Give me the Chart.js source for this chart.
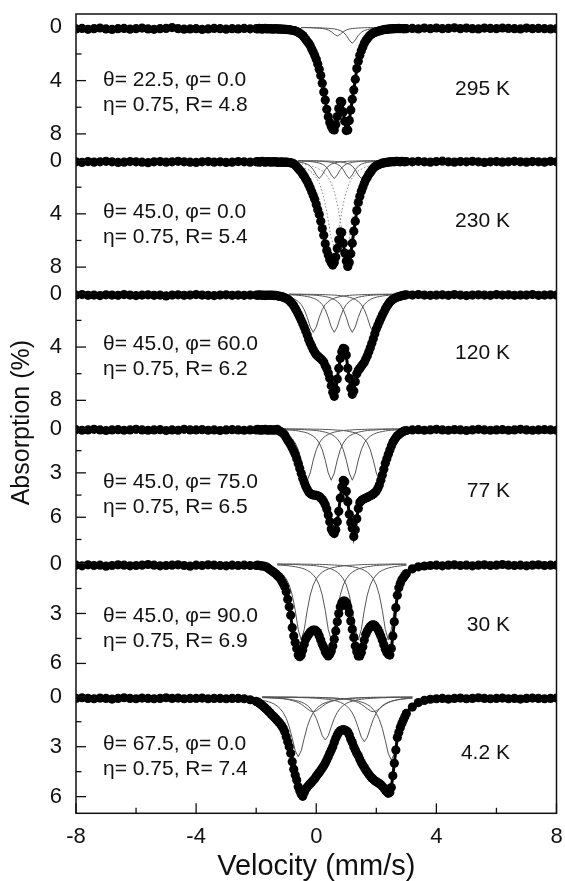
<!DOCTYPE html>
<html>
<head>
<meta charset="utf-8">
<script src="https://cdn.jsdelivr.net/npm/chart.js@4.4.1/dist/chart.umd.min.js"></script>
<style>
html,body{margin:0;padding:0;background:#fff;}
#wrap{position:relative;width:565px;height:881px;}
canvas{display:block;}
</style>
</head>
<body>
<div id="wrap"><canvas id="c" width="565" height="881"></canvas></div>
<script>
// ---------- categories / tick labels ----------
const temps = ['295 K','230 K','120 K','77 K','30 K','4.2 K'];
const thetaVals = ['22.5','45.0','45.0','45.0','45.0','67.5'];
const phiVals = ['0.0','0.0','60.0','75.0','90.0','0.0'];
const etaVals = ['0.75','0.75','0.75','0.75','0.75','0.75'];
const rVals = ['4.8','5.4','6.2','6.5','6.9','7.4'];
const xMajorTicks = [-8,-4,0,4,8];
const xMinorTicks = [-6,-2,2,6];
const yMajorTicks = [[0,4,8],[0,4,8],[0,4,8],[0,3,6],[0,3,6],[0,3,6]];
const yMinorTicks = [[2,6],[2,6],[2,6],[1.5,4.5,7.5],[1.5,4.5],[1.5,4.5]];
const panelMin = [-1,-1,-1,-1,-1,-1];
const panelMax = [9,9,9,8,7,7];

// ---------- measured spectra (velocity mm/s, absorption %) ----------
const velocity = [-8,-7.8,-7.6,-7.4,-7.2,-7,-6.8,-6.6,-6.4,-6.2,-6,-5.8,-5.6,-5.4,-5.2,-5,-4.8,-4.6,-4.4,-4.2,-4,-3.8,-3.6,-3.4,-3.2,-3,-2.8,-2.6,-2.4,-2.2,
-2,-1.95,-1.9,-1.85,-1.8,-1.75,-1.7,-1.65,-1.6,-1.55,
-1.5,-1.45,-1.4,-1.35,-1.3,-1.25,-1.2,-1.15,-1.1,-1.05,
-1,-0.95,-0.9,-0.85,-0.8,-0.75,-0.7,-0.65,-0.6,-0.55,
-0.5,-0.45,-0.4,-0.35,-0.3,-0.25,-0.2,-0.15,-0.1,-0.05,
0,0.05,0.1,0.15,0.2,0.25,0.3,0.35,0.4,0.45,
0.5,0.55,0.6,0.65,0.7,0.75,0.8,0.85,0.9,0.95,
1,1.05,1.1,1.15,1.2,1.25,1.3,1.35,1.4,1.45,
1.5,1.55,1.6,1.65,1.7,1.75,1.8,1.85,1.9,1.95,
2,2.05,2.1,2.15,2.2,2.25,2.3,2.35,2.4,2.45,
2.5,2.55,2.6,2.65,2.7,2.75,2.8,2.85,2.9,2.95,
3,3.2,3.4,3.6,3.8,4,4.2,4.4,4.6,4.8,5,5.2,5.4,5.6,5.8,6,6.2,6.4,6.6,6.8,7,7.2,7.4,7.6,7.8,8];

const abs295 = [0.12,0.08,0.15,0.1,0.05,0.12,0.16,0.1,0.08,0.14,0.1,0.06,0.12,0.15,0.1,0.08,0.02,0.1,0.14,0.12,0.1,0.16,0.12,0.08,0.1,0.14,0.1,0.12,0.08,0.11,
0.10,0.12,0.08,0.10,0.14,0.10,0.08,0.12,0.10,0.12,
0.10,0.14,0.12,0.10,0.12,0.14,0.12,0.15,0.14,0.16,
0.16,0.18,0.18,0.20,0.22,0.24,0.27,0.32,0.37,0.44,
0.52,0.62,0.76,0.92,1.06,1.20,1.38,1.62,1.85,2.12,
2.40,2.75,3.15,3.62,4.20,4.85,5.46,6.15,6.71,7.15,
7.45,7.65,7.70,7.30,6.70,6.10,5.55,5.60,6.35,7.05,
7.75,7.70,7.00,6.20,5.40,4.70,3.90,3.10,2.55,2.10,
1.75,1.48,1.20,1.00,0.85,0.70,0.58,0.50,0.43,0.38,
0.34,0.30,0.27,0.24,0.20,0.18,0.16,0.15,0.14,0.12,
0.12,0.10,0.11,0.09,0.10,0.08,0.10,0.09,0.11,0.10,
0.1,0.08,0.12,0.06,0.1,0.05,0.1,0.08,0.04,0.1,0.06,0.1,0.12,0.06,0.08,0.1,0.05,0.08,0.1,0.12,0.06,0.1,0.08,0.1,0.12,0.1];

const abs230 = [0.1,0.14,0.08,0.12,0.1,0.06,0.1,0.14,0.12,0.08,0.1,0.12,0.16,0.1,0.08,0.12,0.1,0.06,0.1,0.12,0.14,0.1,0.08,0.12,0.1,0.14,0.12,0.08,0.1,0.12,
0.10,0.08,0.12,0.10,0.06,0.10,0.12,0.10,0.08,0.10,
0.12,0.10,0.08,0.12,0.10,0.14,0.12,0.10,0.14,0.12,
0.12,0.14,0.15,0.17,0.20,0.25,0.34,0.46,0.59,0.72,
0.85,1.02,1.18,1.38,1.58,1.82,2.06,2.34,2.62,2.90,
3.30,3.70,4.05,4.55,5.10,5.60,6.25,6.75,7.10,7.45,
7.68,7.85,7.65,7.25,6.60,5.95,5.35,5.40,6.20,6.95,
7.55,7.95,7.65,7.00,6.20,5.30,4.55,3.75,3.15,2.70,
2.30,2.00,1.70,1.45,1.25,1.05,0.90,0.72,0.58,0.47,
0.40,0.34,0.28,0.24,0.20,0.18,0.15,0.14,0.12,0.10,
0.10,0.08,0.10,0.07,0.06,0.08,0.10,0.07,0.08,0.10,
0.08,0.1,0.06,0.1,0.12,0.08,0.05,0.1,0.12,0.08,0.1,0.06,0.1,0.14,0.1,0.08,0.12,0.1,0.06,0.1,0.12,0.08,0.1,0.12,0.06,0.1];

const abs120 = [0.1,0.06,0.12,0.1,0.14,0.08,0.1,0.12,0.06,0.1,0.14,0.1,0.08,0.12,0.1,0.16,0.1,0.08,0.12,0.1,0.06,0.1,0.12,0.14,0.1,0.08,0.12,0.1,0.12,0.1,
0.10,0.12,0.08,0.10,0.12,0.10,0.14,0.10,0.12,0.10,
0.12,0.10,0.14,0.12,0.15,0.18,0.20,0.22,0.26,0.30,
0.35,0.42,0.50,0.62,0.75,0.90,1.10,1.30,1.52,1.75,
2.00,2.25,2.52,2.80,3.10,3.45,3.72,3.95,4.20,4.40,
4.58,4.68,4.78,4.88,5.00,5.12,5.40,5.62,5.95,6.35,
6.90,7.40,7.70,7.20,6.40,5.60,4.85,4.35,4.10,4.15,
4.60,5.60,6.35,7.10,7.55,7.30,6.60,6.00,5.75,5.62,
5.45,5.30,5.15,4.90,4.65,4.35,4.05,3.72,3.38,3.00,
2.65,2.38,2.10,1.85,1.60,1.38,1.15,0.95,0.78,0.62,
0.52,0.44,0.36,0.30,0.25,0.21,0.18,0.15,0.12,0.10,
0.08,0.1,0.06,0.1,0.12,0.1,0.08,0.12,0.06,0.1,0.14,0.1,0.08,0.1,0.12,0.06,0.1,0.08,0.12,0.1,0.1,0.06,0.12,0.1,0.08,0.1];

const abs77 = [0.08,0.12,0.1,0.06,0.1,0.14,0.1,0.08,0.12,0.1,0.06,0.1,0.12,0.1,0.08,0.14,0.1,0.12,0.06,0.1,0.1,0.08,0.12,0.1,0.14,0.1,0.08,0.1,0.12,0.1,
0.10,0.06,0.10,0.12,0.08,0.10,0.06,0.10,0.12,0.10,
0.08,0.12,0.10,0.10,0.06,0.14,0.20,0.26,0.34,0.45,
0.62,0.80,0.95,1.12,1.32,1.52,1.75,2.05,2.36,2.70,
3.05,3.38,3.65,3.90,4.10,4.30,4.40,4.46,4.50,4.50,
4.52,4.55,4.60,4.70,4.80,4.95,5.15,5.45,5.85,6.30,
6.80,7.00,7.10,6.85,6.30,5.60,4.70,3.95,3.50,3.60,
4.25,4.95,5.80,6.35,6.75,7.30,6.85,6.10,5.40,5.00,
4.88,4.80,4.75,4.70,4.66,4.60,4.55,4.50,4.42,4.35,
4.22,4.05,3.82,3.50,3.15,2.75,2.35,2.05,1.75,1.46,
1.18,0.95,0.78,0.62,0.50,0.42,0.33,0.26,0.20,0.16,
0.14,0.1,0.08,0.12,0.1,0.06,0.1,0.12,0.08,0.1,0.14,0.1,0.06,0.1,0.12,0.1,0.08,0.12,0.1,0.06,0.1,0.12,0.1,0.08,0.1,0.12];

const abs30 = [0.1,0.14,0.08,0.12,0.1,0.16,0.12,0.08,0.1,0.14,0.12,0.1,0.06,0.1,0.14,0.12,0.1,0.08,0.12,0.16,0.1,0.12,0.08,0.1,0.12,0.14,0.1,0.12,0.1,0.12,
0.12,0.10,0.12,0.14,0.15,0.15,0.18,0.22,0.28,0.35,
0.42,0.48,0.55,0.62,0.72,0.80,0.90,1.05,1.22,1.40,
1.70,2.15,2.60,3.10,3.85,4.35,4.75,5.10,5.50,5.60,
5.50,5.20,4.85,4.55,4.38,4.25,4.12,4.05,4.00,4.00,
4.05,4.15,4.35,4.60,4.85,5.05,5.30,5.45,5.55,5.45,
5.25,4.95,4.55,4.05,3.50,3.00,2.60,2.35,2.25,2.25,
2.35,2.60,2.95,3.45,3.95,4.45,4.95,5.30,5.55,5.55,
5.35,5.00,4.60,4.25,4.05,3.90,3.78,3.70,3.68,3.72,
3.82,3.95,4.15,4.35,4.60,4.88,5.15,5.35,5.45,5.50,
5.10,4.35,3.50,2.65,1.90,1.45,1.18,0.98,0.85,0.72,
0.6,0.32,0.2,0.15,0.12,0.1,0.14,0.1,0.08,0.12,0.1,0.14,0.1,0.08,0.12,0.1,0.06,0.1,0.12,0.1,0.14,0.1,0.08,0.12,0.1,0.1];

const abs4 = [0.1,0.06,0.1,0.12,0.08,0.1,0.14,0.1,0.06,0.1,0.12,0.08,0.1,0.12,0.1,0.06,0.1,0.08,0.12,0.1,0.1,0.08,0.12,0.1,0.1,0.12,0.1,0.1,0.12,0.18,
0.28,0.32,0.38,0.45,0.52,0.60,0.68,0.76,0.85,0.95,
1.05,1.14,1.22,1.32,1.42,1.52,1.62,1.75,1.90,2.10,
2.40,2.70,3.00,3.40,3.90,4.35,4.70,5.00,5.40,5.65,
5.85,5.98,5.75,5.55,5.42,5.32,5.22,5.12,5.02,4.92,
4.78,4.65,4.55,4.42,4.28,4.15,3.98,3.80,3.60,3.40,
3.20,3.00,2.75,2.50,2.30,2.15,2.05,2.00,1.98,2.00,
2.05,2.12,2.30,2.55,2.75,3.00,3.20,3.40,3.55,3.75,
3.95,4.10,4.25,4.40,4.52,4.65,4.78,4.88,4.95,5.05,
5.10,5.15,5.22,5.28,5.38,5.48,5.60,5.70,5.80,5.75,
5.45,4.75,4.00,3.20,2.45,2.15,1.85,1.60,1.40,1.20,
1.0,0.62,0.35,0.22,0.15,0.12,0.1,0.14,0.1,0.08,0.12,0.1,0.06,0.1,0.12,0.1,0.08,0.12,0.1,0.14,0.1,0.08,0.1,0.12,0.1,0.08];

// ---------- fitted sub-spectra (thin lines) ----------
const cv295 = [-0.5,-0.4,-0.3,-0.2,-0.1,0,0.1,0.2,0.3,0.4,0.5,0.6,0.7,0.8,0.9,1,1.1,1.2,1.3,1.4,1.5,1.6,1.7,1.8,1.9,2];
const comp295a = [0.02,0.02,0.02,0.03,0.04,0.05,0.07,0.09,0.13,0.2,0.33,0.52,0.65,0.52,0.33,0.2,0.13,0.09,0.07,0.05,0.04,0.03,0.02,0.02,0.02,0.01];
const comp295b = [0.02,0.02,0.02,0.02,0.03,0.03,0.04,0.05,0.06,0.07,0.09,0.12,0.17,0.24,0.37,0.6,0.96,1.2,0.96,0.6,0.37,0.24,0.17,0.12,0.09,0.07];

const cv230 = [-0.6,-0.5,-0.4,-0.3,-0.2,-0.1,0,0.1,0.2,0.3,0.4,0.5,0.6,0.7,0.8,0.9,1,1.1,1.2,1.3,1.4,1.5,1.6,1.7,1.8,1.9,2,2.1,2.2,2.3,2.4];
const comp230a = [0.1,0.14,0.19,0.27,0.42,0.68,1.08,1.35,1.08,0.68,0.42,0.27,0.19,0.14,0.1,0.08,0.06,0.05,0.04,0.04,0.03,0.03,0.02,0.02,0.02,0.02,0.01,0.01,0.01,0.01,0.01];
const comp230b = [0.04,0.04,0.05,0.06,0.08,0.1,0.14,0.19,0.27,0.42,0.68,1.08,1.35,1.08,0.68,0.42,0.27,0.19,0.14,0.1,0.08,0.06,0.05,0.04,0.04,0.03,0.03,0.02,0.02,0.02,0.02];
const comp230c = [0.02,0.02,0.02,0.03,0.03,0.04,0.04,0.05,0.06,0.08,0.1,0.14,0.19,0.27,0.42,0.68,1.08,1.35,1.08,0.68,0.42,0.27,0.19,0.14,0.1,0.08,0.06,0.05,0.04,0.04,0.03];
const comp230d = [0.01,0.01,0.02,0.02,0.02,0.02,0.02,0.03,0.03,0.04,0.04,0.05,0.06,0.08,0.1,0.14,0.19,0.27,0.42,0.68,1.08,1.35,1.08,0.68,0.42,0.27,0.19,0.14,0.1,0.08,0.06];
const dot230a = [0.38,0.45,0.54,0.65,0.78,1.0,1.3,1.69,2.34,3.25,4.49,5.85,6.5,5.85,4.49,3.25,2.34,1.69,1.3,1.0,0.78,0.65,0.54,0.45,0.38,0.33,0.29,0.25,0.22,0.2,0.18];
const dot230b = [0.22,0.25,0.29,0.33,0.38,0.45,0.54,0.65,0.78,1.0,1.3,1.69,2.34,3.25,4.49,5.85,6.5,5.85,4.49,3.25,2.34,1.69,1.3,1.0,0.78,0.65,0.54,0.45,0.38,0.33,0.29];

const cv120 = [-0.9,-0.8,-0.7,-0.6,-0.5,-0.4,-0.3,-0.2,-0.1,0,0.1,0.2,0.3,0.4,0.5,0.6,0.7,0.8,0.9,1,1.1,1.2,1.3,1.4,1.5,1.6,1.7,1.8,1.9,2,2.1,2.2,2.3,2.4,2.5,2.6,2.7];
const comp120a = [0.26,0.33,0.43,0.58,0.81,1.19,1.77,2.49,2.9,2.49,1.77,1.19,0.81,0.58,0.43,0.33,0.26,0.21,0.17,0.14,0.12,0.1,0.09,0.08,0.07,0.06,0.06,0.05,0.05,0.04,0.04,0.04,0.03,0.03,0.03,0.03,0.02];
const comp120b = [0.08,0.09,0.1,0.12,0.14,0.17,0.21,0.26,0.33,0.43,0.58,0.81,1.19,1.77,2.49,2.9,2.49,1.77,1.19,0.81,0.58,0.43,0.33,0.26,0.21,0.17,0.14,0.12,0.1,0.09,0.08,0.07,0.06,0.06,0.05,0.05,0.04];
const comp120c = [0.04,0.05,0.05,0.06,0.06,0.07,0.08,0.09,0.1,0.12,0.14,0.17,0.21,0.26,0.33,0.43,0.58,0.81,1.19,1.77,2.49,2.9,2.49,1.77,1.19,0.81,0.58,0.43,0.33,0.26,0.21,0.17,0.14,0.12,0.1,0.09,0.08];
const comp120d = [0.02,0.03,0.03,0.03,0.03,0.04,0.04,0.04,0.05,0.05,0.06,0.06,0.07,0.08,0.09,0.1,0.12,0.14,0.17,0.21,0.26,0.33,0.43,0.58,0.81,1.19,1.77,2.49,2.9,2.49,1.77,1.19,0.81,0.58,0.43,0.33,0.26];

const cv77 = [-1.1,-1,-0.9,-0.8,-0.7,-0.6,-0.5,-0.4,-0.3,-0.2,-0.1,0,0.1,0.2,0.3,0.4,0.5,0.6,0.7,0.8,0.9,1,1.1,1.2,1.3,1.4,1.5,1.6,1.7,1.8,1.9,2,2.1,2.2,2.3,2.4,2.5,2.6,2.7,2.8];
const comp77a = [0.31,0.4,0.52,0.7,0.98,1.44,2.14,3.01,3.5,3.01,2.14,1.44,0.98,0.7,0.52,0.4,0.31,0.25,0.21,0.17,0.14,0.12,0.11,0.1,0.08,0.07,0.07,0.06,0.05,0.05,0.05,0.04,0.04,0.04,0.03,0.03,0.03,0.03,0.03,0.02];
const comp77b = [0.08,0.1,0.11,0.12,0.14,0.17,0.21,0.25,0.31,0.4,0.52,0.7,0.98,1.44,2.14,3.01,3.5,3.01,2.14,1.44,0.98,0.7,0.52,0.4,0.31,0.25,0.21,0.17,0.14,0.12,0.11,0.1,0.08,0.07,0.07,0.06,0.05,0.05,0.05,0.04];
const comp77c = [0.04,0.05,0.05,0.05,0.06,0.07,0.07,0.08,0.1,0.11,0.12,0.14,0.17,0.21,0.25,0.31,0.4,0.52,0.7,0.98,1.44,2.14,3.01,3.5,3.01,2.14,1.44,0.98,0.7,0.52,0.4,0.31,0.25,0.21,0.17,0.14,0.12,0.11,0.1,0.08];
const comp77d = [0.02,0.02,0.03,0.03,0.03,0.03,0.03,0.04,0.04,0.04,0.05,0.05,0.05,0.06,0.07,0.07,0.08,0.1,0.11,0.12,0.14,0.17,0.21,0.25,0.31,0.4,0.52,0.7,0.98,1.44,2.14,3.01,3.5,3.01,2.14,1.44,0.98,0.7,0.52,0.4];

const cv30 = [-1.3,-1.2,-1.1,-1,-0.9,-0.8,-0.7,-0.6,-0.5,-0.4,-0.3,-0.2,-0.1,0,0.1,0.2,0.3,0.4,0.5,0.6,0.7,0.8,0.9,1,1.1,1.2,1.3,1.4,1.5,1.6,1.7,1.8,1.9,2,2.1,2.2,2.3,2.4,2.5,2.6,2.7,2.8,2.9,3];
const comp30a = [0.41,0.52,0.68,0.92,1.29,1.89,2.81,3.96,4.6,3.96,2.81,1.89,1.29,0.92,0.68,0.52,0.41,0.33,0.27,0.23,0.19,0.17,0.14,0.12,0.11,0.1,0.09,0.08,0.07,0.06,0.06,0.05,0.05,0.05,0.04,0.04,0.04,0.04,0.03,0.03,0.03,0.03,0.03,0.03];
const comp30b = [0.09,0.1,0.11,0.12,0.14,0.17,0.19,0.23,0.27,0.33,0.41,0.52,0.68,0.92,1.29,1.89,2.81,3.96,4.6,3.96,2.81,1.89,1.29,0.92,0.68,0.52,0.41,0.33,0.27,0.23,0.19,0.17,0.14,0.12,0.11,0.1,0.09,0.08,0.07,0.06,0.06,0.05,0.05,0.05];
const comp30c = [0.04,0.04,0.05,0.05,0.05,0.06,0.06,0.07,0.08,0.09,0.1,0.11,0.12,0.14,0.17,0.19,0.23,0.27,0.33,0.41,0.52,0.68,0.92,1.29,1.89,2.81,3.96,4.6,3.96,2.81,1.89,1.29,0.92,0.68,0.52,0.41,0.33,0.27,0.23,0.19,0.17,0.14,0.12,0.11];
const comp30d = [0.03,0.03,0.03,0.03,0.03,0.03,0.03,0.03,0.04,0.04,0.04,0.04,0.05,0.05,0.05,0.06,0.06,0.07,0.08,0.09,0.1,0.11,0.12,0.14,0.17,0.19,0.23,0.27,0.33,0.41,0.52,0.68,0.92,1.29,1.89,2.81,3.96,4.6,3.96,2.81,1.89,1.29,0.92,0.68];

const cv4 = [-1.8,-1.7,-1.6,-1.5,-1.4,-1.3,-1.2,-1.1,-1,-0.9,-0.8,-0.7,-0.6,-0.5,-0.4,-0.3,-0.2,-0.1,0,0.1,0.2,0.3,0.4,0.5,0.6,0.7,0.8,0.9,1,1.1,1.2,1.3,1.4,1.5,1.6,1.7,1.8,1.9,2,2.1,2.2,2.3,2.4,2.5,2.6,2.7,2.8,2.9,3,3.1,3.2];
const comp4a = [0.21,0.25,0.3,0.36,0.44,0.56,0.72,0.95,1.3,1.8,2.49,3.24,3.6,3.24,2.49,1.8,1.3,0.95,0.72,0.56,0.44,0.36,0.3,0.25,0.21,0.18,0.16,0.14,0.12,0.11,0.1,0.09,0.08,0.07,0.06,0.06,0.05,0.05,0.05,0.04,0.04,0.04,0.04,0.03,0.03,0.03,0.03,0.03,0.03,0.03,0.03];
const comp4b = [0.05,0.06,0.06,0.07,0.08,0.09,0.1,0.11,0.13,0.15,0.18,0.22,0.26,0.32,0.4,0.52,0.69,0.94,1.3,1.8,2.34,2.6,2.34,1.8,1.3,0.94,0.69,0.52,0.4,0.32,0.26,0.22,0.18,0.15,0.13,0.11,0.1,0.09,0.08,0.07,0.06,0.06,0.05,0.05,0.04,0.04,0.04,0.03,0.03,0.03,0.03];
const comp4c = [0.02,0.02,0.02,0.03,0.03,0.03,0.03,0.03,0.04,0.04,0.04,0.05,0.05,0.05,0.06,0.06,0.07,0.08,0.09,0.1,0.12,0.14,0.16,0.19,0.22,0.27,0.33,0.42,0.54,0.72,0.97,1.35,1.87,2.43,2.7,2.43,1.87,1.35,0.97,0.72,0.54,0.42,0.33,0.27,0.22,0.19,0.16,0.14,0.12,0.1,0.09];
const comp4d = [0.03,0.03,0.03,0.03,0.03,0.03,0.03,0.03,0.03,0.03,0.03,0.03,0.04,0.04,0.04,0.04,0.05,0.05,0.05,0.06,0.06,0.07,0.08,0.08,0.09,0.1,0.11,0.13,0.14,0.17,0.19,0.22,0.26,0.32,0.38,0.47,0.59,0.76,1.01,1.37,1.9,2.63,3.42,3.8,3.42,2.63,1.9,1.37,1.01,0.76,0.59];
const comp4e = [0.05,0.05,0.06,0.07,0.08,0.09,0.11,0.12,0.15,0.18,0.23,0.28,0.35,0.45,0.58,0.72,0.85,0.9,0.85,0.72,0.58,0.45,0.35,0.28,0.23,0.18,0.15,0.12,0.11,0.09,0.08,0.07,0.06,0.05,0.05,0.04,0.04,0.03,0.03,0.03,0.03,0.03,0.02,0.02,0.02,0.02,0.02,0.02,0.02,0.02,0.01];
const comp4f = [0.01,0.01,0.01,0.01,0.02,0.02,0.02,0.02,0.02,0.02,0.02,0.02,0.03,0.03,0.03,0.03,0.03,0.03,0.04,0.04,0.05,0.05,0.06,0.07,0.08,0.09,0.11,0.12,0.15,0.18,0.23,0.28,0.35,0.45,0.58,0.72,0.85,0.9,0.85,0.72,0.58,0.45,0.35,0.28,0.23,0.18,0.15,0.12,0.11,0.09,0.08];

// ---------- assemble ----------
const FONT = "'Liberation Sans', Arial, Helvetica, sans-serif";
const INK = '#111';
const spectra = [abs295, abs230, abs120, abs77, abs30, abs4];
const components = [
  {v: cv295, y: comp295a, p: 0}, {v: cv295, y: comp295b, p: 0},
  {v: cv230, y: comp230a, p: 1}, {v: cv230, y: comp230b, p: 1}, {v: cv230, y: comp230c, p: 1}, {v: cv230, y: comp230d, p: 1},
  {v: cv230, y: dot230a, p: 1, dotted: true}, {v: cv230, y: dot230b, p: 1, dotted: true},
  {v: cv120, y: comp120a, p: 2}, {v: cv120, y: comp120b, p: 2}, {v: cv120, y: comp120c, p: 2}, {v: cv120, y: comp120d, p: 2},
  {v: cv77, y: comp77a, p: 3}, {v: cv77, y: comp77b, p: 3}, {v: cv77, y: comp77c, p: 3}, {v: cv77, y: comp77d, p: 3},
  {v: cv30, y: comp30a, p: 4}, {v: cv30, y: comp30b, p: 4}, {v: cv30, y: comp30c, p: 4}, {v: cv30, y: comp30d, p: 4},
  {v: cv4, y: comp4a, p: 5}, {v: cv4, y: comp4b, p: 5}, {v: cv4, y: comp4c, p: 5}, {v: cv4, y: comp4d, p: 5},
  {v: cv4, y: comp4e, p: 5}, {v: cv4, y: comp4f, p: 5}
];

function pts(xs, ys) { return xs.map((x, i) => ({x: x, y: ys[i]})); }

const datasets = [];
spectra.forEach((s, i) => {
  datasets.push({
    label: temps[i], data: pts(velocity, s), yAxisID: 'y' + (i + 1),
    showLine: true, borderColor: '#000', borderWidth: 3,
    pointRadius: 4.6, pointBackgroundColor: '#000', pointBorderWidth: 0, pointStyle: 'circle',
    order: 0
  });
});
components.forEach(c => {
  datasets.push({
    data: pts(c.v, c.y), yAxisID: 'y' + (c.p + 1),
    showLine: true, borderColor: c.dotted ? '#888' : '#555', borderWidth: 1,
    borderDash: c.dotted ? [1.5, 2] : [], pointRadius: 0, order: 1
  });
});

// text layout (in data units of each panel)
const layoutCfg = {
  textLeftV: -7.1, textRightV: 6.45, lineGap: 25,
  line1Y: [3.96, 3.87, 3.78, 3.62, 3.15, 2.83],
  tempY: [4.63, 4.54, 4.45, 4.23, 3.69, 3.38]
};

const scales = {
  x: {
    type: 'linear', min: -8, max: 8, position: 'bottom',
    grid: {display: false, drawTicks: false, tickLength: 0},
    border: {display: false},
    ticks: {font: {family: FONT, size: 22}, color: INK, padding: 10, maxRotation: 0, autoSkip: false,
            callback: v => String(v)},
    afterBuildTicks: s => { s.ticks = xMajorTicks.map(v => ({value: v})); },
    afterFit: s => { s.height = 67.7; s.paddingLeft = 0; s.paddingRight = 0; },
    title: {display: true, text: 'Velocity (mm/s)', color: INK,
            font: {family: FONT, size: 29, lineHeight: 1}, padding: {top: 0, bottom: 0}}
  }
};
temps.forEach((t, i) => {
  scales['y' + (i + 1)] = {
    type: 'linear', position: 'left', stack: 'spectra', stackWeight: 1, weight: 6 - i,
    reverse: true, min: panelMin[i], max: panelMax[i],
    grid: {display: false, drawTicks: false, tickLength: 0},
    border: {display: false},
    ticks: {font: {family: FONT, size: 22}, color: INK, padding: 14, callback: v => String(v)},
    afterBuildTicks: s => { s.ticks = yMajorTicks[i].map(v => ({value: v})); },
    afterFit: s => { s.width = 76; s.paddingTop = 0; s.paddingBottom = 0; }
  };
});

const overlay = {
  id: 'overlay',
  afterDraw(chart) {
    const {ctx, chartArea: a, scales: sc} = chart;
    ctx.save();
    ctx.strokeStyle = INK;
    // frame
    ctx.lineWidth = 1.5;
    ctx.strokeRect(a.left, a.top, a.right - a.left, a.bottom - a.top);
    // inward ticks
    ctx.lineWidth = 1.3;
    const hLine = (x1, y, x2) => { ctx.beginPath(); ctx.moveTo(x1, y); ctx.lineTo(x2, y); ctx.stroke(); };
    const vLine = (x, y1, y2) => { ctx.beginPath(); ctx.moveTo(x, y1); ctx.lineTo(x, y2); ctx.stroke(); };
    temps.forEach((t, i) => {
      const s = sc['y' + (i + 1)];
      yMajorTicks[i].forEach(v => hLine(a.left, s.getPixelForValue(v), a.left + 10));
      yMinorTicks[i].forEach(v => hLine(a.left, s.getPixelForValue(v), a.left + 5.5));
    });
    xMajorTicks.forEach(v => vLine(sc.x.getPixelForValue(v), a.bottom, a.bottom - 10));
    xMinorTicks.forEach(v => vLine(sc.x.getPixelForValue(v), a.bottom, a.bottom - 5.5));
    // panel annotations
    ctx.fillStyle = INK;
    ctx.font = '21px ' + FONT;
    ctx.textBaseline = 'middle';
    const xl = sc.x.getPixelForValue(layoutCfg.textLeftV);
    const xr = sc.x.getPixelForValue(layoutCfg.textRightV);
    temps.forEach((t, i) => {
      const s = sc['y' + (i + 1)];
      const y1 = s.getPixelForValue(layoutCfg.line1Y[i]);
      ctx.textAlign = 'left';
      ctx.fillText('\u03B8= ' + thetaVals[i] + ', \u03C6= ' + phiVals[i], xl, y1);
      ctx.fillText('\u03B7= ' + etaVals[i] + ', R= ' + rVals[i], xl, y1 + layoutCfg.lineGap);
      ctx.textAlign = 'right';
      ctx.fillText(t, xr, s.getPixelForValue(layoutCfg.tempY[i]));
    });
    // y-axis title
    ctx.font = '25px ' + FONT;
    ctx.textAlign = 'center';
    ctx.translate(22, (a.top + a.bottom) / 2 + 9);
    ctx.rotate(-Math.PI / 2);
    ctx.fillText('Absorption (%)', 0, 0);
    ctx.restore();
  }
};

new Chart(document.getElementById('c'), {
  type: 'scatter',
  data: {datasets: datasets},
  options: {
    responsive: false, animation: false, devicePixelRatio: 1, events: [],
    layout: {padding: {top: 14, right: 8.5, bottom: 0, left: 0}},
    plugins: {legend: {display: false}, tooltip: {enabled: false}},
    scales: scales
  },
  plugins: [overlay]
});
</script>
</body>
</html>
